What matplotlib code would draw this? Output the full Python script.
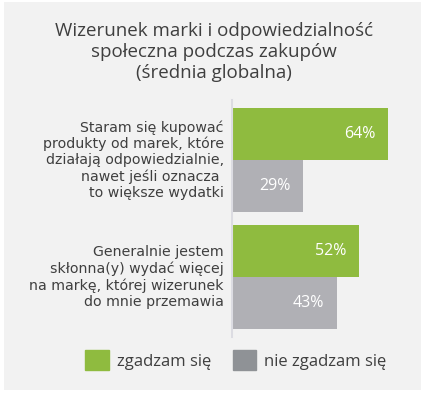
import numpy as np
import matplotlib
matplotlib.use('Agg')
import matplotlib.pyplot as plt
from matplotlib.patches import Rectangle, Patch

title = "Wizerunek marki i odpowiedzialność\nspołeczna podczas zakupów\n(średnia globalna)"
categories = [
    "Staram się kupować\nprodukty od marek, które\ndziałają odpowiedzialnie,\nnawet jeśli oznacza \nto większe wydatki",
    "Generalnie jestem\nskłonna(y) wydać więcej\nna markę, której wizerunek\ndo mnie przemawia",
]
series_names = ["zgadzam się", "nie zgadzam się"]
agree = [64, 52]
disagree = [29, 43]

green = '#8fbb3f'
gray_bar = '#b0b0b5'
gray_leg = '#8f9296'
txt = '#3f3f3f'

plt.rcParams['font.family'] = ['Open Sans', 'DejaVu Sans']

W, H = 428, 395
fig = plt.figure(figsize=(W / 100, H / 100), dpi=100)
fig.patch.set_facecolor('white')
fig.patches.append(Rectangle((4 / W, 1 - 390 / H), 417 / W, 388 / H,
                             transform=fig.transFigure, facecolor='#f2f2f2',
                             edgecolor='none', zorder=-5))

fig.text(214 / W, 1 - 52 / H, title, ha='center', va='center', fontsize=13.5,
         color=txt, linespacing=1.2)

ax = fig.add_axes([232 / W, 1 - 337 / H, 189 / W, 237 / H])
ax.set_facecolor('none')
y = np.arange(len(categories))
h = 0.444
ax.barh(y - h / 2, agree, height=h, color=green, label=series_names[0])
ax.barh(y + h / 2, disagree, height=h, color=gray_bar, label=series_names[1])
ax.set_xlim(0, 189 / 2.44)
ax.set_ylim(1.513, -0.513)
for s in ['top', 'right', 'bottom']:
    ax.spines[s].set_visible(False)
ax.spines['left'].set_color('#dcdce2')
ax.spines['left'].set_linewidth(1.5)
ax.set_xticks([])
ax.set_yticks([])

for yi, v in zip(y - h / 2, agree):
    ax.annotate(f"{v}%", (v, yi), xytext=(-9, 0), textcoords='offset points',
                ha='right', va='center', color='white', fontsize=11.5)
for yi, v in zip(y + h / 2, disagree):
    ax.annotate(f"{v}%", (v, yi), xytext=(-9, 0), textcoords='offset points',
                ha='right', va='center', color='white', fontsize=11.5)
for yi, lab in zip(y, categories):
    ax.annotate(lab, (0, yi), xytext=(-6, 0), textcoords='offset points',
                ha='right', va='center', color=txt, fontsize=10.2,
                linespacing=1.18, family=['DejaVu Sans'])

handles = [Patch(color=green), Patch(color=gray_leg)]
fig.legend(handles, series_names, loc='center', bbox_to_anchor=(236 / W, 1 - 360 / H),
           ncol=2, frameon=False, fontsize=12, handlelength=1.4, handleheight=1.4,
           handletextpad=0.5, columnspacing=1.3, labelcolor=txt)

fig.savefig('out.png', dpi=100, facecolor='white')
